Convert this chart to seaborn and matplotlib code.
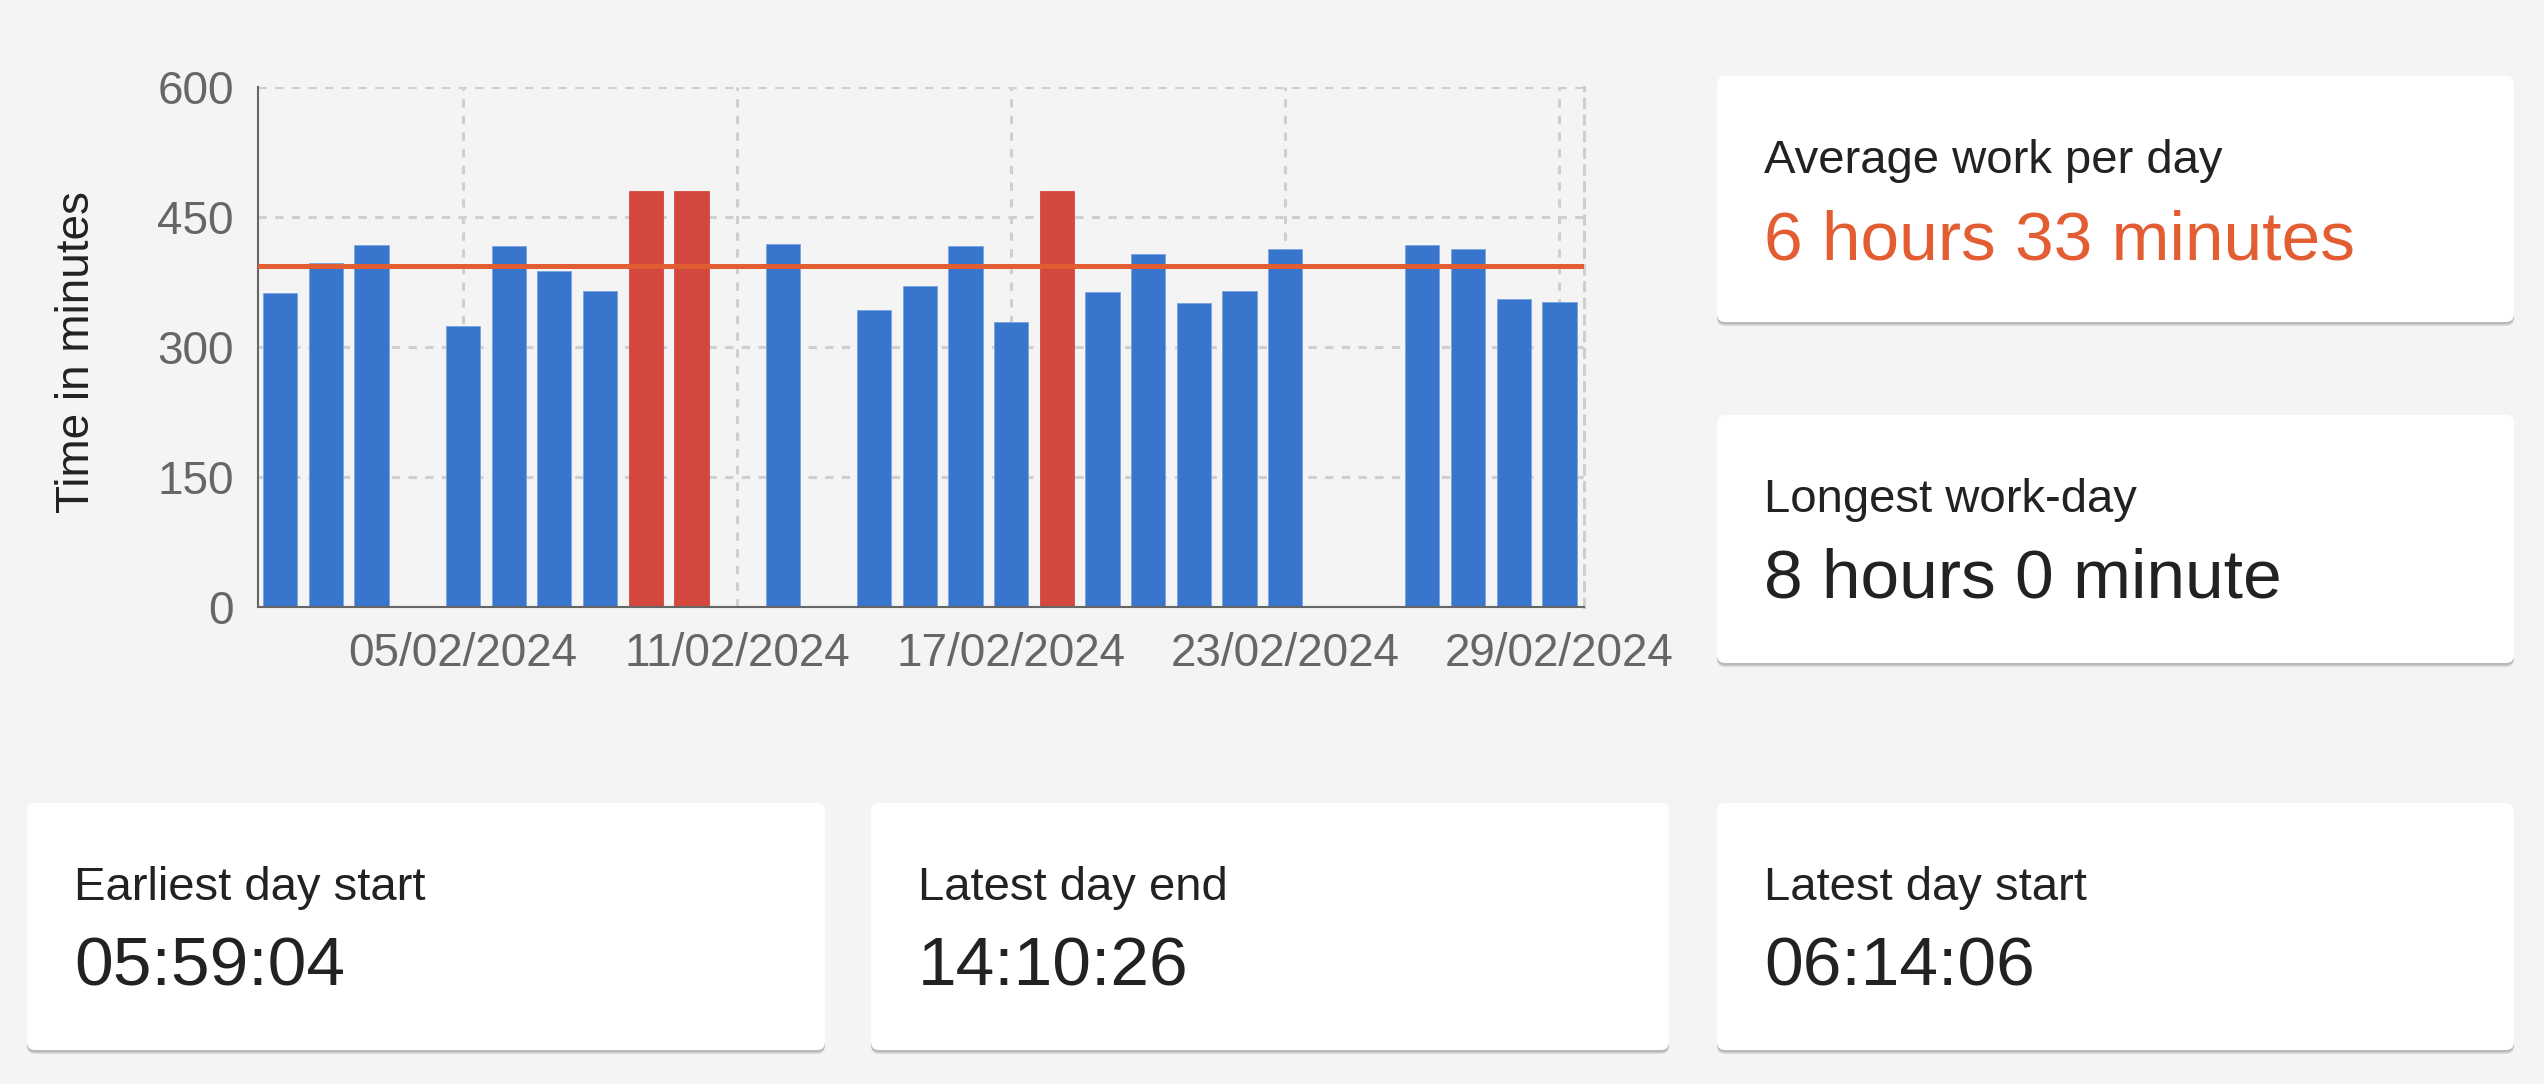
import numpy as np
import matplotlib
matplotlib.use("Agg")
import matplotlib.pyplot as plt
from matplotlib.patches import FancyBboxPatch
import seaborn as sns
import pandas as pd

# every day of the month on the x axis
days = ["%02d/02/2024" % d for d in range(1, 30)]

# days with work logged and minutes worked
worked_days = ["01/02/2024", "02/02/2024", "03/02/2024", "05/02/2024", "06/02/2024",
               "07/02/2024", "08/02/2024", "09/02/2024", "10/02/2024", "12/02/2024",
               "14/02/2024", "15/02/2024", "16/02/2024", "17/02/2024", "18/02/2024",
               "19/02/2024", "20/02/2024", "21/02/2024", "22/02/2024", "23/02/2024",
               "26/02/2024", "27/02/2024", "28/02/2024", "29/02/2024"]
minutes = [362, 397, 418, 324, 416, 388, 364, 480, 480, 419,
           343, 370, 416, 329, 480, 363, 407, 351, 365, 413,
           417, 413, 355, 352]

avg_minutes = 393
longest_minutes = 480
tick_labels = ["05/02/2024", "11/02/2024", "17/02/2024", "23/02/2024", "29/02/2024"]
y_ticks = [0, 150, 300, 450, 600]

card_titles = ["Average work per day", "Longest work-day",
               "Earliest day start", "Latest day end", "Latest day start"]
card_values = ["6 hours 33 minutes", "8 hours 0 minute",
               "05:59:04", "14:10:26", "06:14:06"]

PAGE = "#f4f4f4"
BLUE = "#3875cc"
RED = "#d4473f"
ORANGE = "#e35d33"
AXIS = "#666666"
GRID = "#cfcfcf"
INK = "#222222"

sns.set_style("white")
plt.rcParams["font.family"] = ["Liberation Sans", "DejaVu Sans"]
plt.rcParams["lines.scale_dashes"] = False

W, H = 2544, 1084
fig = plt.figure(figsize=(W / 100, H / 100), dpi=100, facecolor=PAGE)

# background layer in pixel coords for the cards
bg = fig.add_axes([0, 0, 1, 1])
bg.set_xlim(0, W)
bg.set_ylim(H, 0)
bg.axis("off")

# chart area
x0, x1, y0, y1 = 258.3, 1583.6, 86.7, 607.3
ax = fig.add_axes([x0 / W, 1 - y1 / H, (x1 - x0) / W, (y1 - y0) / H])
ax.set_facecolor("none")

df = pd.DataFrame({"day": worked_days, "minutes": minutes})
df["kind"] = np.where(df["minutes"] >= longest_minutes, "longest", "normal")

sns.barplot(data=df, x="day", y="minutes", hue="kind", order=days,
            palette={"normal": BLUE, "longest": RED}, width=0.75,
            dodge=False, legend=False, saturation=1, ax=ax,
            edgecolor="#7aa3e0", linewidth=0.6, zorder=2)
for p in ax.patches:
    if p.get_facecolor()[0] > 0.6:
        p.set_edgecolor(RED)

ax.axhline(avg_minutes, color=ORANGE, lw=3.6, zorder=3)

ax.set_axisbelow(True)
ax.grid(True, color=GRID, lw=2.2, linestyle=(0, (6, 6)))
ax.set_xticks([days.index(t) for t in tick_labels])
ax.set_xticklabels(tick_labels)
ax.set_yticks(y_ticks)
ax.set_xlim(-0.48, 28.53)
ax.set_ylim(0, 600)
ax.tick_params(length=12.2, width=1.5, color=AXIS, labelcolor=AXIS,
               labelsize=33, pad=5.5)
ax.set_xlabel("")
ax.set_ylabel("Time in minutes", fontsize=33, color=INK)
ax.yaxis.set_label_coords(-0.1205, 0.49)

ax.spines["top"].set_visible(False)
ax.spines["right"].set_color(GRID)
ax.spines["right"].set_linewidth(2.2)
ax.spines["right"].set_linestyle((0, (6, 6)))
for s in ["left", "bottom"]:
    ax.spines[s].set_color(AXIS)
    ax.spines[s].set_linewidth(1.5)

# stat cards: left, top, width, height
boxes = [(1717, 76, 797, 246), (1717, 415, 797, 248),
         (27, 803, 798, 247), (871, 803, 798, 247), (1717, 803, 797, 247)]
value_colors = [ORANGE, INK, INK, INK, INK]

for (bx, by, bw, bh), title, value, vc in zip(boxes, card_titles, card_values, value_colors):
    bg.add_patch(FancyBboxPatch((bx, by + 4), bw, bh, boxstyle="round,pad=0,rounding_size=8",
                                fc="#dedede", ec="none"))
    bg.add_patch(FancyBboxPatch((bx, by + 2.5), bw, bh, boxstyle="round,pad=0,rounding_size=8",
                                fc="#b9b9b9", ec="none"))
    bg.add_patch(FancyBboxPatch((bx, by), bw, bh, boxstyle="round,pad=0,rounding_size=8",
                                fc="white", ec="none"))
    bg.text(bx + 47, by + 97, title, fontsize=34, color=INK, va="baseline", ha="left")
    bg.text(bx + 47, by + 183, value, fontsize=50, color=vc, va="baseline", ha="left")

fig.savefig("out.png", dpi=100, facecolor=PAGE)
